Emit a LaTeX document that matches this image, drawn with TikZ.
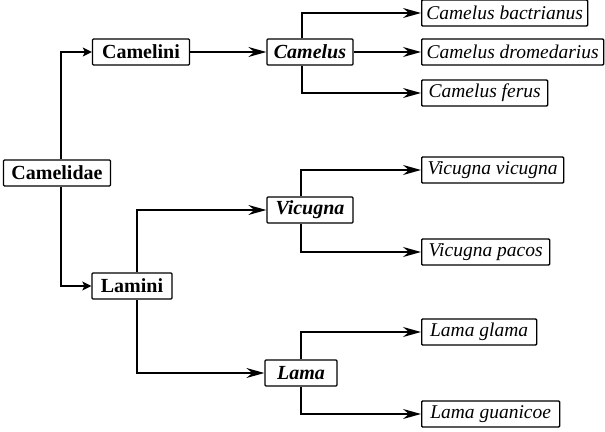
\documentclass[tikz,border=0pt]{standalone}
\usepackage{fontspec}
\setmainfont{Liberation Serif}
\usetikzlibrary{arrows.meta,positioning}

\begin{document}
\begin{tikzpicture}[x=1pt, y=-1pt,
  box/.style={draw, line width=1.3pt, rounded corners=1pt, minimum height=26pt, inner xsep=4pt, inner ysep=2pt},
  rank/.style={box, font=\fontsize{20}{23}\selectfont\bfseries},
  genus/.style={box, font=\fontsize{20}{23}\selectfont\bfseries\itshape},
  species/.style={box, anchor=west, font=\fontsize{19.5}{23}\selectfont\itshape},
  arr/.style={-{Stealth[length=18pt, width=10pt, inset=6pt]}, line width=1.4pt},
  sarr/.style={-{Stealth[length=9pt, width=9pt, inset=2pt]}, line width=1.4pt},
]
\useasboundingbox (0,0) rectangle (605,431);

% family and tribes
\node[rank, minimum width=107pt] (fam) at (57,173) {Camelidae};
\node[rank, minimum width=97pt] (camelini) at (141,52) {Camelini};
\node[rank, minimum width=80pt] (lamini) at (132,286) {Lamini};

% genera
\node[genus, minimum width=86pt] (camelus) at (310,52) {Camelus};
\node[genus, minimum width=86pt] (vicugna) at (310,210) {Vicugna};
\node[genus, minimum width=72pt] (lama) at (301,373) {Lama};

% species
\node[species, minimum width=166pt] (bact) at (421,13) {Camelus bactrianus};
\node[species, minimum width=182pt] (drom) at (421,52) {Camelus dromedarius};
\node[species, minimum width=126pt] (ferus) at (421,93) {Camelus ferus};
\node[species, minimum width=142pt] (vvic) at (421,170) {Vicugna vicugna};
\node[species, minimum width=128pt] (pacos) at (421,252) {Vicugna pacos};
\node[species, minimum width=115pt] (glama) at (421,332) {Lama glama};
\node[species, minimum width=138pt] (guan) at (421,414) {Lama guanicoe};

\draw[sarr] ([xshift=4pt]fam.north) |- (camelini.west);
\draw[sarr] ([xshift=4pt]fam.south) |- (lamini.west);

\draw[arr] (camelini.east) -- (camelus.west);
\draw[arr] ([xshift=-8pt]camelus.north) |- (bact.west);
\draw[arr] (camelus.east) -- (drom.west);
\draw[arr] ([xshift=-8pt]camelus.south) |- (ferus.west);

\draw[arr] ([xshift=5pt]lamini.north) |- (vicugna.west);
\draw[arr] ([xshift=5pt]lamini.south) |- (lama.west);
\draw[arr] ([xshift=-9pt]vicugna.north) |- (vvic.west);
\draw[arr] ([xshift=-9pt]vicugna.south) |- (pacos.west);
\draw[arr] (lama.north) |- (glama.west);
\draw[arr] (lama.south) |- (guan.west);
\end{tikzpicture}
\end{document}
